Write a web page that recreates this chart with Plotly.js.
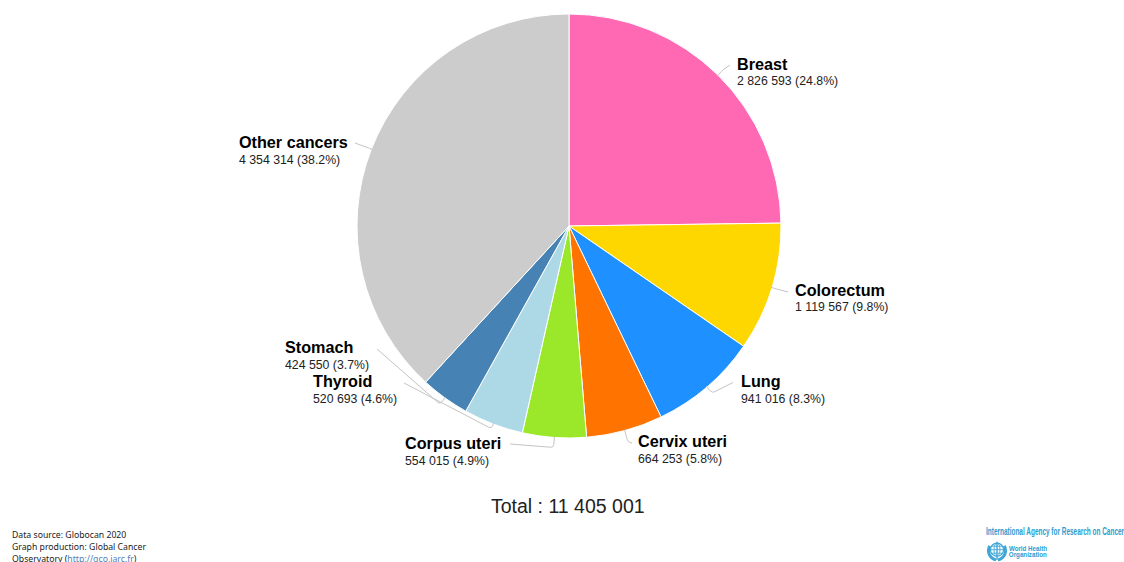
<!DOCTYPE html>
<html>
<head>
<meta charset="utf-8">
<script src="https://cdn.plot.ly/plotly-3.0.1.min.js"></script>
<style>
  html, body { margin: 0; padding: 0; background: #fff; overflow: hidden; }
  #chart { width: 1124px; height: 562px; }
</style>
</head>
<body>
<div id="chart"></div>
<script>
// Estimated cancer cases by site, in the chart's clockwise order
const categories = ['Breast', 'Colorectum', 'Lung', 'Cervix uteri', 'Corpus uteri', 'Thyroid', 'Stomach', 'Other cancers'];
const cases = [2826593, 1119567, 941016, 664253, 554015, 520693, 424550, 4354314];
const shares = ['24.8', '9.8', '8.3', '5.8', '4.9', '4.6', '3.7', '38.2'];
const sliceColors = ['#FF69B4', '#FFD700', '#1E90FF', '#FF7300', '#9BE82B', '#ADD8E6', '#4682B4', '#CCCCCC'];
const totalLabel = 'Total : 11 405 001';

// Label placement in pixels: text left edge, name line centre, value line centre
const labelSpots = [
  [736, 64, 81], [794, 290, 307], [740, 381, 399], [637, 441, 459],
  [404, 443, 461], [312, 381, 399], [284, 347, 365], [238, 142, 160]
];
// Leader line: how far the elbow sits off the rim, and where the line ends
const leaders = [
  [9, 730, 65], [4, 788, 292], [9, 733, 382.5], [13, 632, 443],
  [11, 510, 444], [6, 404, 383], [9, 377, 349], [3, 355, 143]
];

const W = 1124, H = 562;
const cx = 569, cy = 226, R = 211;
const px = x => x / W;
const py = y => 1 - y / H;
const fmt = n => String(n).replace(/\B(?=(\d{3})+$)/g, ' ');

const total = cases.reduce((a, b) => a + b, 0);

// Rim point and leader line for each slice, derived from its mid angle
let running = 0;
const shapes = cases.map((v, i) => {
  const mid = (running + v / 2) / total * 2 * Math.PI;
  running += v;
  const [off, ex, ey] = leaders[i];
  const at = r => [cx + r * Math.sin(mid), cy - r * Math.cos(mid)];
  const rim = at(R);
  const elbow = at(R + off);
  const dx = ex - elbow[0], dy = ey - elbow[1];
  const len = Math.hypot(dx, dy) || 1;
  const round = Math.min(3, off * 0.5);
  const before = at(R + off - round);
  const after = [elbow[0] + dx / len * round, elbow[1] + dy / len * round];
  const pt = p => px(p[0]) + ',' + py(p[1]);
  return {
    type: 'path',
    xref: 'paper', yref: 'paper',
    path: 'M' + pt(rim) + ' L' + pt(before) + ' Q' + pt(elbow) + ' ' + pt(after) + ' L' + pt([ex, ey]),
    line: { color: '#C4C4C4', width: 1 }
  };
});

const sans = 'Liberation Sans, Arial, sans-serif';
const note = (text, x, y, size, extra) => Object.assign({
  text, x: px(x), y: py(y), xref: 'paper', yref: 'paper',
  xanchor: 'left', yanchor: 'middle', showarrow: false, borderpad: 0,
  font: { family: sans, size, color: '#000' }
}, extra || {});

const annotations = [];
categories.forEach((name, i) => {
  const [x, y1, y2] = labelSpots[i];
  annotations.push(note('<b>' + name + '</b>', x, y1, 16.2));
  annotations.push(note(fmt(cases[i]) + ' (' + shares[i] + '%)', x, y2, 12.3, { font: { family: sans, size: 12.3, color: '#222' } }));
});
annotations.push(note(totalLabel, 568, 506, 19.5, {
  xanchor: 'center', font: { family: sans, size: 19.5, color: '#222' }
}));

// Source notes, bottom left
const foot = { family: 'Noto Sans, Open Sans, sans-serif', size: 8.7, color: '#222' };
annotations.push(note('Data source: Globocan 2020', 11, 534.5, 8.7, { font: foot }));
annotations.push(note('Graph production: Global Cancer', 11, 546.5, 8.7, { font: foot }));
annotations.push(note('Observatory (<span style="color:#4F81BD">http://gco.iarc.fr</span>)', 11, 558.5, 8.7, { font: foot }));

// Agency credits, bottom right; these are squeezed to a set width after drawing
const credit = size => ({ family: sans, size, color: '#2A9DD0', weight: 700 });
const squeezed = [
  ['International Agency for Research on Cancer', 986, 1124, 531, 10],
  ['World Health', 1009, 1047, 548, 7.8],
  ['Organization', 1009, 1047, 554.5, 7.8]
];
squeezed.forEach(([text, x0, x1, y, size]) => {
  annotations.push(note(text, (x0 + x1) / 2, y, size, { xanchor: 'center', font: credit(size) }));
});

// WHO emblem drawn as a small vector
const emblem = "<svg xmlns='http://www.w3.org/2000/svg' viewBox='0 0 24 24'>" +
  "<g fill='none' stroke='#3FA6D6'>" +
  "<path stroke-width='3.4' d='M3.5 6C0.5 13 3 20 11 22.5M20.5 6C23.5 13 21 20 13 22.5'/>" +
  "<circle cx='12' cy='10.5' r='7.5' stroke-width='1.4'/>" +
  "<ellipse cx='12' cy='10.5' rx='3.4' ry='7.5' stroke-width='1'/>" +
  "<path stroke-width='1' d='M4.5 10.5H19.5M6 6.5H18M6 14.5H18'/>" +
  "<path stroke-width='1.6' d='M12 1.5V22'/>" +
  "</g></svg>";

const data = [{
  type: 'pie',
  labels: categories,
  values: cases,
  sort: false,
  direction: 'clockwise',
  rotation: 0,
  textinfo: 'none',
  hoverinfo: 'label+value+percent',
  marker: { colors: sliceColors, line: { color: '#FFFFFF', width: 1 } },
  domain: { x: [px(cx - R - 1), px(cx + R + 1)], y: [py(cy + R + 1), py(cy - R - 1)] }
}];

const layout = {
  width: W, height: H,
  margin: { l: 0, r: 0, t: 0, b: 0 },
  paper_bgcolor: '#FFFFFF',
  showlegend: false,
  shapes,
  annotations,
  images: [{
    source: 'data:image/svg+xml;utf8,' + encodeURIComponent(emblem),
    xref: 'paper', yref: 'paper',
    x: px(986.5), y: py(540.5), sizex: 21 / W, sizey: 21 / H,
    xanchor: 'left', yanchor: 'top', layer: 'above'
  }]
};

Plotly.newPlot('chart', data, layout, { displayModeBar: false, staticPlot: true }).then(() => {
  // Condense the agency credits to the width of the lockup
  document.querySelectorAll('#chart .annotation-text').forEach(node => {
    const hit = squeezed.find(s => s[0] === node.textContent);
    if (hit) {
      node.setAttribute('textLength', hit[2] - hit[1]);
      node.setAttribute('lengthAdjust', 'spacingAndGlyphs');
    }
  });
});
</script>
</body>
</html>
